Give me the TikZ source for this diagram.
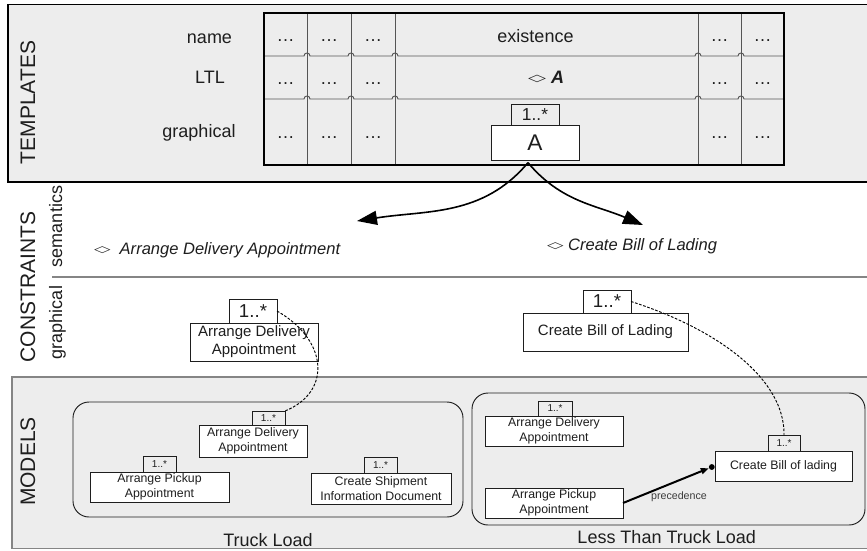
\documentclass[tikz,border=0pt]{standalone}
\usepackage{fontspec}
\usepackage{graphicx}
\setmainfont{Liberation Sans}
\newfontfamily\symbolfont{DejaVu Sans}
\usetikzlibrary{arrows.meta}

% one pixel of the drawing grid
\newdimen\pxu
\pxu=0.75pt

% flattened "eventually" diamond of LTL
\newcommand\ltldiamond{\raisebox{0.1em}{\scalebox{1.3}[0.55]{\symbolfont ◇}}}

\definecolor{panelgray}{HTML}{EDEDED}
\definecolor{rulegray}{HTML}{858585}
\definecolor{cellgray}{HTML}{555555}
\definecolor{inkgray}{HTML}{1E1E1E}
\definecolor{notegray}{HTML}{3C3C3C}

\begin{document}
\begin{tikzpicture}[x=0.75pt, y=-0.75pt,
  sz/.style 2 args={minimum width=#1\pxu, minimum height=#2\pxu},
  txt/.style={inner sep=0pt, outer sep=0pt, text=inkgray},
  rowlabel/.style={txt, anchor=base, font=\fontsize{13.5}{16}\selectfont},
  bandtitle/.style={txt, rotate=90, anchor=base, font=\fontsize{15.75}{18}\selectfont},
  subtitle/.style={txt, rotate=90, anchor=base, font=\fontsize{13.5}{16}\selectfont},
  semtext/.style={txt, anchor=base west, font=\fontsize{12.4}{15}\selectfont\itshape},
  cardbox/.style={draw=inkgray, line width=0.7pt, inner sep=0pt, outer sep=0pt, align=center, text=inkgray},
  mlabel/.style={cardbox, line width=0.6pt, font=\fontsize{7.5}{9}\selectfont},
  mact/.style={cardbox, line width=0.6pt, fill=white, font=\fontsize{9.25}{11.25}\selectfont},
  modelframe/.style={draw=inkgray, line width=0.7pt, rounded corners=12pt, inner sep=0pt},
  frametitle/.style={txt, anchor=base, font=\fontsize{13.5}{16}\selectfont},
  bigarrow/.style={draw=black, line width=1.2pt, -{Triangle[length=15pt, width=10.5pt]}},
  trace/.style={draw=black, line width=0.7pt, dash pattern=on 2pt off 1.2pt},
  precarrow/.style={draw=black, line width=1.5pt, -{Triangle[length=6pt, width=4.5pt]}},
]
\useasboundingbox (0,0) rectangle (867,550);

% ---------- bands ----------
\begin{scope}
  \clip (0,0) rectangle (867,550);
  \fill[white] (0,0) rectangle (867,550);
  \draw[fill=panelgray, draw=black, line width=0.9pt] (8,4.5) rectangle (900,182);
  \draw[fill=panelgray, draw=rulegray, line width=0.9pt] (12,377) rectangle (900,548.5);
  \draw[rulegray, line width=0.9pt] (52,277) -- (900,277);
\end{scope}

% ---------- templates table ----------
\foreach \x in {307,351,395,698,741}
  \draw[cellgray, line width=0.7pt] (\x,13) -- (\x,165);
\foreach \y in {56,99}
  \draw[cellgray, line width=0.7pt] (264,\y)
    \foreach \x in {307,351,395,698,741}{
      -- (\x-3,\y) .. controls (\x-3,\y-4) and (\x+3,\y-4) .. (\x+3,\y)
    } -- (784,\y);
\draw[black, line width=0.8pt] (264,13) rectangle (784,165);

\node[bandtitle] (tplTitle) at (35,102.5) {TEMPLATES};
\node[rowlabel] (rowName) at (209.5,43) {name};
\node[rowlabel] (rowLtl) at (210,83) {LTL};
\node[rowlabel] (rowGraph) at (199,137.5) {graphical};

\foreach \x [count=\i] in {285.5,329,373,719.5,762.5}{
  \node[rowlabel] (dotsName\i) at (\x,41.5) {…};
  \node[rowlabel] (dotsLtl\i) at (\x,84) {…};
  \node[rowlabel] (dotsGraph\i) at (\x,138.3) {…};
}

\node[rowlabel] (exName) at (535.5,42) {existence};
\node[rowlabel] (exLtl) at (546,83) {\ltldiamond\ \textbf{\textit{A}}};
\node[cardbox, sz={48}{21}, font=\fontsize{13}{15}\selectfont] (tplMult) at (535,114.5) {1..*};
\node[cardbox, fill=white, sz={88}{35}, font=\fontsize{17}{20}\selectfont] (tplA) at (535,142.5) {A};

% ---------- constraints ----------
\node[bandtitle] (conTitle) at (35,287) {CONSTRAINTS};
\node[subtitle] (semTitle) at (62,226.5) {semantics};
\node[subtitle] (graTitle) at (62,322.5) {graphical};

\node[semtext] (semLeft) at (94,254) {\ltldiamond\ \ Arrange Delivery Appointment};
\node[semtext] (semRight) at (547,250) {\ltldiamond\ Create Bill of Lading};

\coordinate (tipLeft) at (357,221);
\coordinate (tipRight) at (643,225);
\draw[bigarrow] ([xshift=-5.25pt,yshift=-2pt]tplA.south) to[out=-130,in=9] (tipLeft);
\draw[bigarrow] ([xshift=-5.25pt,yshift=-2pt]tplA.south) to[out=-50,in=157] (tipRight);

\node[cardbox, sz={48}{24}, font=\fontsize{14}{16}\selectfont] (cMultL) at (253,311) {1..*};
\node[cardbox, fill=white, sz={128}{38}, font=\fontsize{11.25}{13.5}\selectfont] (cActL) at (254,342) {Arrange Delivery\\Appointment};
\node[cardbox, sz={48}{23}, font=\fontsize{14}{16}\selectfont] (cMultR) at (607,301.5) {1..*};
\node[cardbox, fill=white, sz={165}{38}, font=\fontsize{11.25}{13.5}\selectfont] (cActR) at (605.5,332) {Create Bill of Lading};

% ---------- models ----------
\node[bandtitle] (modTitle) at (35,461.5) {MODELS};

\node[modelframe, sz={390}{115}] (tlFrame) at (268,459.5) {};
\node[frametitle] (tlName) at (268,546) {Truck Load};
\node[modelframe, sz={393}{132}] (ltlFrame) at (668.5,459) {};
\node[frametitle] (ltlName) at (666.7,543) {Less Than Truck Load};

% Truck Load model
\node[mlabel, sz={33}{14}] (tlDelM) at (268.5,418) {1..*};
\node[mact, sz={108}{32}] (tlDel) at (253,441) {Arrange Delivery\\Appointment};
\node[mlabel, sz={33}{16}] (tlPickM) at (159.5,464) {1..*};
\node[mact, sz={139}{30}] (tlPick) at (159.5,487) {Arrange Pickup\\Appointment};
\node[mlabel, sz={33}{16}] (tlShipM) at (380.5,465) {1..*};
\node[mact, sz={140}{31}] (tlShip) at (381,488.5) {Create Shipment\\Information Document};

% Less Than Truck Load model
\node[mlabel, sz={34}{15}] (lDelM) at (555,408.5) {1..*};
\node[mact, sz={138}{30}] (lDel) at (554,431) {Arrange Delivery\\Appointment};
\node[mact, sz={138}{30}] (lPick) at (554,503) {Arrange Pickup\\Appointment};
\node[mlabel, sz={32}{16}] (lBillM) at (784,443) {1..*};
\node[mact, sz={137}{30}] (lBill) at (783.5,466) {Create Bill of lading};

\node[circle, fill=black, inner sep=0pt, minimum size=4.4pt, anchor=east] (precDot) at ([yshift=-0.75pt]lBill.west) {};
\draw[precarrow] (lPick.east) -- (precDot);
\node[txt, anchor=base, text=notegray, font=\fontsize{8}{9}\selectfont] (precText) at (679,499) {precedence};

% ---------- traces from constraints to models ----------
\draw[trace] (cMultL.east) .. controls (328,340) and (332,392) .. (tlDelM.north east);
\draw[trace] (cMultR.east) .. controls (720,330) and (785,380) .. (lBillM.north);
\end{tikzpicture}
\end{document}
